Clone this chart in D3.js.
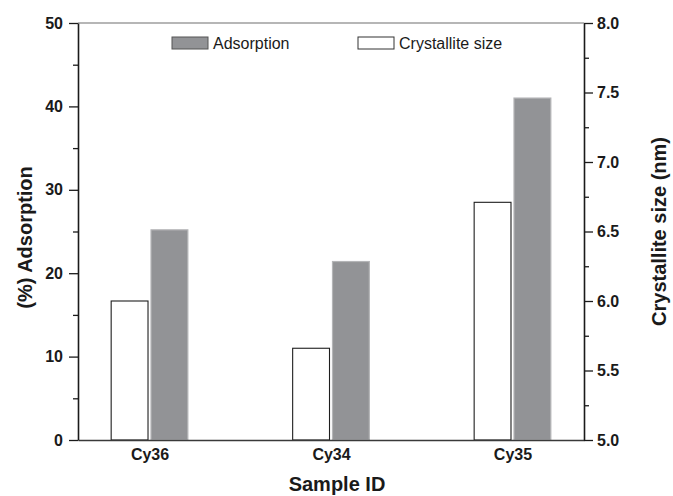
<!DOCTYPE html>
<html>
<head>
<meta charset="utf-8">
<script src="https://cdn.jsdelivr.net/npm/d3@7"></script>
<style>
  html, body { margin: 0; padding: 0; background: #fff; }
  svg { display: block; font-family: "Liberation Sans", Arial, Helvetica, sans-serif; }
</style>
</head>
<body>
<svg id="chart" width="673" height="496"></svg>
<script>
// Sample data
const samples = ["Cy36", "Cy34", "Cy35"];
const adsorption = [25.2, 21.4, 41.0];          // % adsorption (left axis)
const crystalliteSize = [6.0, 5.66, 6.71];      // nm (right axis)
const leftTicks = [0, 10, 20, 30, 40, 50];
const rightTicks = [5.0, 5.5, 6.0, 6.5, 7.0, 7.5, 8.0];

const svg = d3.select("#chart");
const m = { left: 78, right: 584, top: 23, bottom: 440 };

const x = d3.scaleLinear().domain([0.606, 3.394]).range([m.left, m.right]);
const yL = d3.scaleLinear().domain([0, 50]).range([m.bottom, m.top]);
const yR = d3.scaleLinear().domain([5, 8]).range([m.bottom, m.top]);

const barW = 0.203, gap = 0.0165;

// top frame line
svg.append("line")
  .attr("x1", m.left).attr("x2", m.right)
  .attr("y1", m.top).attr("y2", m.top)
  .attr("stroke", "#6f6f6f").attr("stroke-width", 1.2);

// crystallite size bars (white)
svg.append("g").selectAll("rect")
  .data(samples)
  .join("rect")
  .attr("x", (d, i) => x(i + 1 - gap / 2 - barW))
  .attr("width", x(barW) - x(0))
  .attr("y", (d, i) => yR(crystalliteSize[i]))
  .attr("height", (d, i) => yR(5) - yR(crystalliteSize[i]))
  .attr("fill", "#fff")
  .attr("stroke", "#1e1e1e")
  .attr("stroke-width", 1.1);

// adsorption bars (grey)
svg.append("g").selectAll("rect")
  .data(samples)
  .join("rect")
  .attr("x", (d, i) => x(i + 1 + gap / 2))
  .attr("width", x(barW) - x(0))
  .attr("y", (d, i) => yL(adsorption[i]))
  .attr("height", (d, i) => yL(0) - yL(adsorption[i]))
  .attr("fill", "#929396")
  .attr("stroke", "#b4b5b7")
  .attr("stroke-width", 1.2);

// bottom axis
const xAxis = svg.append("g").attr("transform", `translate(0,${m.bottom})`)
  .call(d3.axisBottom(x).tickValues([1, 2, 3]).tickSize(0).tickPadding(9)
    .tickFormat((d) => samples[d - 1]));
xAxis.select(".domain").attr("stroke", "#3a3a3a").attr("stroke-width", 1.3);
xAxis.selectAll("text")
  .attr("font-size", 16).attr("font-weight", "bold").attr("fill", "#1a1a1a")
  .attr("font-family", "Liberation Sans, Arial, sans-serif");

// left axis
const leftMinor = d3.range(5, 50, 10);
const lMinor = svg.append("g").attr("transform", `translate(${m.left},0)`)
  .call(d3.axisLeft(yL).tickValues(leftMinor).tickSize(5).tickFormat(""));
lMinor.select(".domain").remove();
const lAxis = svg.append("g").attr("transform", `translate(${m.left},0)`)
  .call(d3.axisLeft(yL).tickValues(leftTicks).tickSize(9).tickPadding(6).tickSizeOuter(0));
lAxis.select(".domain").attr("stroke", "#1a1a1a").attr("stroke-width", 1.6);
svg.selectAll("g.tick line").attr("stroke", "#1a1a1a").attr("stroke-width", 1.3);
lAxis.selectAll("text")
  .attr("font-size", 16).attr("font-weight", "bold").attr("fill", "#1a1a1a")
  .attr("font-family", "Liberation Sans, Arial, sans-serif");

// right axis
const rightMinor = d3.range(5.25, 8, 0.5);
const rMinor = svg.append("g").attr("transform", `translate(${m.right},0)`)
  .call(d3.axisRight(yR).tickValues(rightMinor).tickSize(5).tickFormat(""));
rMinor.select(".domain").remove();
const rAxis = svg.append("g").attr("transform", `translate(${m.right},0)`)
  .call(d3.axisRight(yR).tickValues(rightTicks).tickSize(9).tickPadding(4)
    .tickSizeOuter(0).tickFormat(d3.format(".1f")));
rAxis.select(".domain").attr("stroke", "#1a1a1a").attr("stroke-width", 1.6);
svg.selectAll("g.tick line").attr("stroke", "#1a1a1a").attr("stroke-width", 1.3);
rAxis.selectAll("text")
  .attr("font-size", 16).attr("font-weight", "bold").attr("fill", "#1a1a1a")
  .attr("font-family", "Liberation Sans, Arial, sans-serif");

// axis titles
const midY = (m.top + m.bottom) / 2;
svg.append("text")
  .attr("transform", `translate(32,${midY + 6}) rotate(-90)`)
  .attr("text-anchor", "middle")
  .attr("font-size", 20).attr("font-weight", "bold").attr("fill", "#1a1a1a")
  .text("(%) Adsorption");
svg.append("text")
  .attr("transform", `translate(666,${midY}) rotate(-90)`)
  .attr("text-anchor", "middle")
  .attr("font-size", 20).attr("font-weight", "bold").attr("fill", "#1a1a1a")
  .text("Crystallite size (nm)");
svg.append("text")
  .attr("x", (m.left + m.right) / 2 + 6).attr("y", 491)
  .attr("text-anchor", "middle")
  .attr("font-size", 20).attr("font-weight", "bold").attr("fill", "#1a1a1a")
  .text("Sample ID");

// legend
const legend = [
  { label: "Adsorption", fill: "#929396", stroke: "#555", x: 172 },
  { label: "Crystallite size", fill: "#fff", stroke: "#333", x: 358 }
];
const lg = svg.append("g").selectAll("g").data(legend).join("g")
  .attr("transform", (d) => `translate(${d.x},37)`);
lg.append("rect")
  .attr("width", 36).attr("height", 12)
  .attr("fill", (d) => d.fill).attr("stroke", (d) => d.stroke).attr("stroke-width", 1);
lg.append("text")
  .attr("x", 41).attr("y", 12)
  .attr("font-size", 16).attr("fill", "#1a1a1a")
  .text((d) => d.label);
</script>
</body>
</html>
